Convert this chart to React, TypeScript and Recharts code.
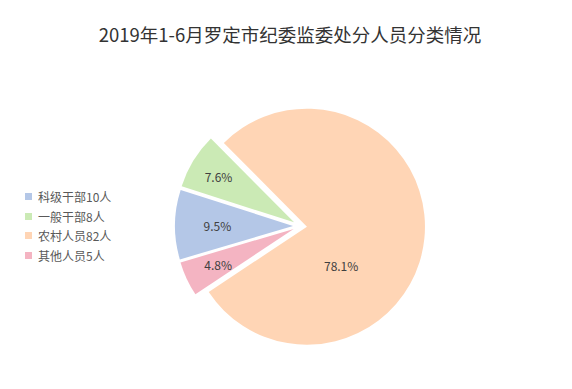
import { PieChart, Pie, Cell } from 'recharts';

const categories = ['科级干部10人', '一般干部8人', '农村人员82人', '其他人员5人'];
const counts = [10, 8, 82, 5];
const colors = ['#b4c7e7', '#cbeab5', '#ffd5b5', '#f4b4c2'];
const bigIndex = 2;

const data = categories.map((name, i) => ({ name, value: counts[i] }));
const total = counts.reduce((a, b) => a + b, 0);

const FONT = '"Microsoft YaHei", "Noto Sans CJK SC", sans-serif';
const RAD = Math.PI / 180;

// layout
const CX = 300;
const CY = 226;
const R = 118;
const EXPLODE = 7;
const START = 196.5;

// bisector angle of each slice (clockwise from START)
const mids: number[] = [];
{
  let a = START;
  counts.forEach((c) => {
    const span = (c / total) * 360;
    mids.push(a - span / 2);
    a -= span;
  });
}

function renderLabel(props: any) {
  const { cx, cy, midAngle, outerRadius, index, value } = props;
  let x: number;
  let y: number;
  if (index === bigIndex) {
    const r = outerRadius * 0.44;
    const ang = midAngle - 43;
    x = cx + r * Math.cos(-ang * RAD);
    y = cy + r * Math.sin(-ang * RAD);
  } else {
    const dx = -outerRadius * 0.64;
    x = cx + dx;
    y = cy - dx * Math.tan(midAngle * RAD);
  }
  return (
    <text
      x={x}
      y={y}
      fill="#404040"
      fontSize={12}
      fontFamily={FONT}
      textAnchor="middle"
      dominantBaseline="central"
    >
      {((value / total) * 100).toFixed(1)}%
    </text>
  );
}

export default function App() {
  return (
    <div style={{ position: 'absolute', left: 0, top: 0, width: 572, height: 389, background: '#fff' }}>
      <div
        style={{
          position: 'absolute',
          top: 21,
          left: 0,
          width: 580,
          textAlign: 'center',
          fontFamily: FONT,
          fontSize: 18.5,
          color: '#333',
        }}
      >
        2019年1-6月罗定市纪委监委处分人员分类情况
      </div>
      <div
        style={{
          position: 'absolute',
          left: 25,
          top: 187,
          fontFamily: FONT,
          fontSize: 12,
          color: '#595959',
        }}
      >
        {categories.map((c, i) => (
          <div key={c} style={{ display: 'flex', alignItems: 'center', height: 19.5 }}>
            <span
              style={{ width: 7, height: 7, background: colors[i], marginRight: 6, display: 'inline-block' }}
            />
            {c}
          </div>
        ))}
      </div>
      <PieChart width={572} height={389} margin={{ top: 0, right: 0, bottom: 0, left: 0 }}>
        {data.map((slice, k) => (
          <Pie
            key={slice.name}
            data={data}
            dataKey="value"
            cx={CX + EXPLODE * Math.cos(mids[k] * RAD)}
            cy={CY - EXPLODE * Math.sin(mids[k] * RAD)}
            outerRadius={R}
            startAngle={START}
            endAngle={START - 360}
            stroke="none"
            labelLine={false}
            label={(p: any) => (p.index === k ? renderLabel(p) : null)}
            isAnimationActive={false}
          >
            {data.map((d, i) => (
              <Cell key={d.name} fill={i === k ? colors[i] : 'none'} stroke="none" />
            ))}
          </Pie>
        ))}
      </PieChart>
    </div>
  );
}
